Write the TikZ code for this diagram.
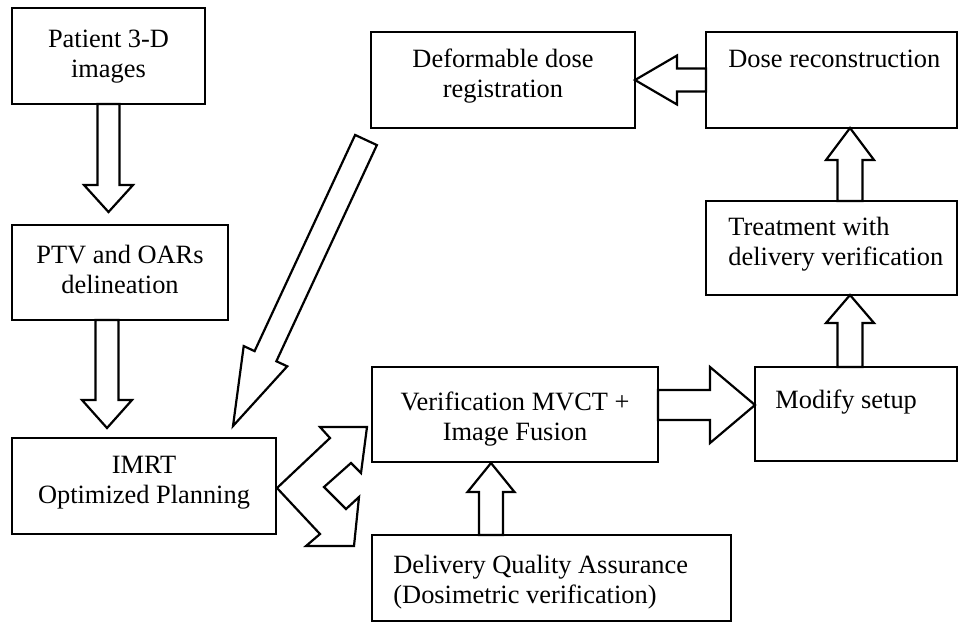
\documentclass[tikz,border=0pt]{standalone}
\usepackage{fontspec}
\setmainfont{Liberation Serif}
\usetikzlibrary{calc}
\newcommand\pxu{0.5pt}
\tikzset{
  box/.style={draw=black, line width=1.1pt, anchor=north west, inner sep=0pt, outer sep=0pt},
  txt/.style={inner sep=0pt, font=\fontsize{13.2}{15}\selectfont},
  ctxt/.style={txt, align=center, anchor=north},
  ltxt/.style={txt, align=left, anchor=north west},
  barrow/.style={draw=black, fill=white, line width=1.1pt, line join=miter}
}
% block arrow: start, end, shaft half-width, head half-width, head length (px)
\newcommand\blockarrow[5]{%
  \path let \p1=#1, \p2=#2, \n1={atan2(\y2-\y1,\x2-\x1)}, \n2={veclen(\x2-\x1,\y2-\y1)} in
    \pgfextra{\xdef\baX{\x1}\xdef\baY{\y1}\xdef\baA{\n1}\xdef\baL{\n2}};
  \begin{scope}[shift={(\baX,\baY)}, rotate=\baA]
    \draw[barrow] (0pt,{-#3*\pxu}) -- ({\baL*1pt-#5*\pxu},{-#3*\pxu})
      -- ({\baL*1pt-#5*\pxu},{-#4*\pxu}) -- ({\baL*1pt},0pt)
      -- ({\baL*1pt-#5*\pxu},{#4*\pxu}) -- ({\baL*1pt-#5*\pxu},{#3*\pxu})
      -- (0pt,{#3*\pxu}) -- cycle;
  \end{scope}}
\begin{document}
\begin{tikzpicture}[x=0.5pt, y=-0.5pt]
\path[use as bounding box] (0,0) rectangle (963,629);

% boxes
\node[box, minimum width={193*\pxu}, minimum height={96*\pxu}] (A) at (12,8) {};
\node[box, minimum width={216*\pxu}, minimum height={95*\pxu}] (B) at (12,225) {};
\node[box, minimum width={264*\pxu}, minimum height={96*\pxu}] (C) at (12,438) {};
\node[box, minimum width={264*\pxu}, minimum height={96*\pxu}] (I) at (371,32) {};
\node[box, minimum width={251*\pxu}, minimum height={96*\pxu}] (H) at (706,32) {};
\node[box, minimum width={251*\pxu}, minimum height={94*\pxu}] (G) at (706,201) {};
\node[box, minimum width={286*\pxu}, minimum height={95*\pxu}] (D) at (372,367) {};
\node[box, minimum width={202*\pxu}, minimum height={94*\pxu}] (F) at (755,367) {};
\node[box, minimum width={359*\pxu}, minimum height={86*\pxu}] (E) at (372,535) {};

% texts
\node[ctxt] (At) at (108.5,26) {\strut Patient 3-D\\images};
\node[ctxt] (Bt) at (120,242) {\strut PTV and OARs\\delineation};
\node[ctxt] (Ct) at (144,452) {\strut IMRT\\Optimized Planning};
\node[ctxt] (It) at (503,46) {\strut Deformable dose\\registration};
\node[ltxt] (Ht) at (728,46) {\strut Dose reconstruction};
\node[ltxt] (Gt) at (728,214) {\strut Treatment with\\delivery verification};
\node[ctxt] (Dt) at (515,389) {\strut Verification MVCT +\\Image Fusion};
\node[ltxt] (Ft) at (775,387) {\strut Modify setup};
\node[ltxt] (Et) at (393,552) {\strut Delivery Quality Assurance\\(Dosimetric verification)};

% block arrows
\blockarrow{(A.south)}{($(B.north west)+(96.5,-13)$)}{11}{24.5}{27}
\blockarrow{($(B.south west)+(95,0)$)}{($(C.north west)+(95,-10)$)}{11.5}{25}{28}
\blockarrow{($(I.south west)+(-5,12)$)}{($(C.north east)+(-43,-12)$)}{12}{24}{77}
\blockarrow{($(E.north west)+(119,0)$)}{($(D.south west)+(119,1)$)}{12}{23.5}{29}
\blockarrow{($(D.north east)+(0,38)$)}{($(F.north west)+(0,38)$)}{15}{38}{45}
\blockarrow{($(F.north west)+(95,0)$)}{($(G.south west)+(144,0)$)}{12.5}{24}{28}
\blockarrow{($(G.north west)+(144,0)$)}{($(H.south west)+(144,0)$)}{12.5}{24}{32}
\blockarrow{($(H.north west)+(0,48)$)}{($(I.north east)+(0,48)$)}{11.5}{24.5}{42}

% double-headed chevron arrow between planning, verification and QA
\draw[barrow, shift={(C.east)}] (1,2) -- (54,-48) -- (44,-59) -- (91,-59) -- (85,-13)
  -- (75,-23) -- (48,1) -- (70,23) -- (83,11) -- (78,60) -- (30,60) -- (44,48) -- cycle;
\end{tikzpicture}
\end{document}
